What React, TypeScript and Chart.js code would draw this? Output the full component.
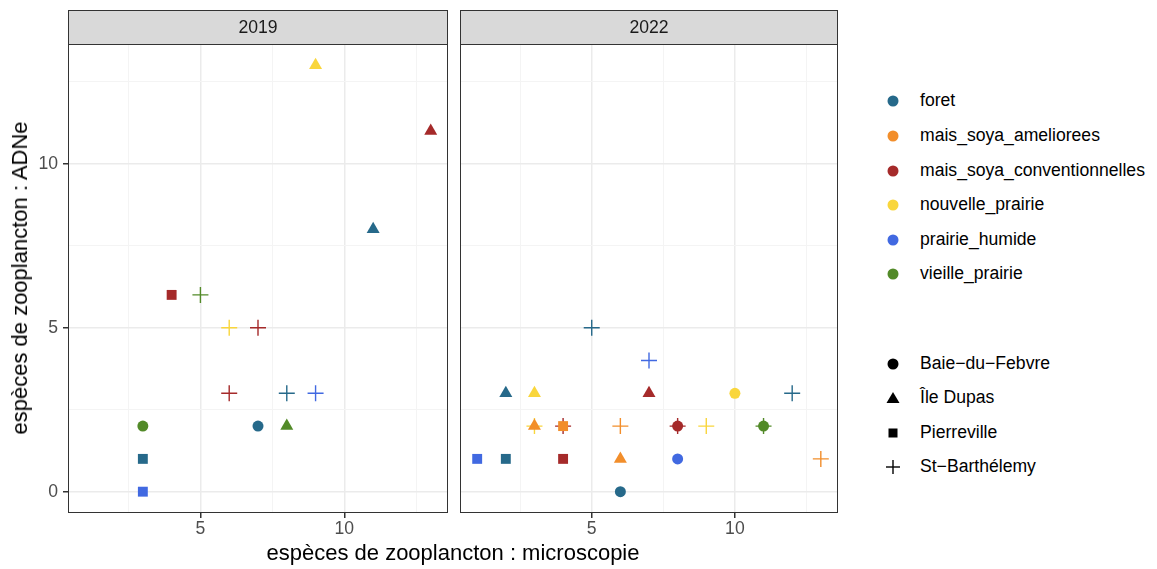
import React, { useEffect, useRef } from 'react';
import { Chart, registerables } from 'chart.js';

Chart.register(...registerables);

const FONT = '"Liberation Sans", Arial, Helvetica, sans-serif';

const habitats = ['foret', 'mais_soya_ameliorees', 'mais_soya_conventionnelles', 'nouvelle_prairie', 'prairie_humide', 'vieille_prairie'];
const habitatColors = ['#26698A', '#F28E2B', '#A52A2A', '#F9D63C', '#4169E1', '#528A28'];
const sites = ['Baie\u2212du\u2212Febvre', '\u00CEle Dupas', 'Pierreville', 'St\u2212Barth\u00E9lemy'];
const siteShapes = ['circle', 'triangle', 'rect', 'cross'];
const siteRadius = [5.5, 7.5, 7, 8];

const years = ['2019', '2022'];

const x2019 = [9, 13, 11, 4, 5, 6, 7, 6, 8, 9, 3, 7, 8, 3, 3];
const y2019 = [13, 11, 8, 6, 6, 5, 5, 3, 3, 3, 2, 2, 2, 1, 0];
const hab2019 = [3, 2, 0, 2, 5, 3, 2, 2, 0, 4, 5, 0, 5, 0, 4];
const site2019 = [1, 1, 1, 2, 3, 3, 3, 3, 3, 3, 0, 0, 1, 2, 2];

const x2022 = [5, 7, 2, 3, 7, 10, 12, 3, 3, 4, 4, 6, 8, 8, 9, 11, 11, 1, 2, 4, 6, 8, 13, 6];
const y2022 = [5, 4, 3, 3, 3, 3, 3, 2, 2, 2, 2, 2, 2, 2, 2, 2, 2, 1, 1, 1, 1, 1, 1, 0];
const hab2022 = [0, 4, 0, 3, 2, 3, 0, 3, 1, 2, 1, 1, 2, 2, 3, 5, 5, 4, 0, 2, 1, 4, 1, 0];
const site2022 = [3, 3, 1, 1, 1, 0, 3, 3, 1, 3, 2, 3, 3, 0, 3, 3, 0, 2, 2, 2, 1, 0, 3, 0];

const xTitle = 'esp\u00E8ces de zooplancton : microscopie';
const yTitle = 'esp\u00E8ces de zooplancton : ADNe';

const X_MIN = 0.4, X_MAX = 13.6, Y_MIN = -0.65, Y_MAX = 13.65;

const panelData = [
  { xs: x2019, ys: y2019, hab: hab2019, site: site2019 },
  { xs: x2022, ys: y2022, hab: hab2022, site: site2022 },
];

const isMajor = (v: number) => Math.abs(v % 5) < 1e-9;

const framePlugin = {
  id: 'frame',
  beforeDraw(chart: any, _a: any, opts: any) {
    const { ctx, chartArea: a } = chart;
    ctx.save();
    ctx.fillStyle = '#D9D9D9';
    ctx.fillRect(a.left, 10, a.right - a.left, a.top - 10);
    ctx.strokeStyle = '#333333';
    ctx.lineWidth = 1;
    ctx.strokeRect(a.left + 0.5, 10.5, a.right - a.left - 1, a.top - 10);
    ctx.fillStyle = '#1A1A1A';
    ctx.font = `17.6px ${FONT}`;
    ctx.textAlign = 'center';
    ctx.textBaseline = 'middle';
    ctx.fillText(opts.label, (a.left + a.right) / 2, (10 + a.top) / 2 + 1);
    ctx.restore();
  },
  afterDatasetsDraw(chart: any) {
    const { ctx, chartArea: a } = chart;
    ctx.save();
    ctx.strokeStyle = '#333333';
    ctx.lineWidth = 1;
    ctx.strokeRect(a.left + 0.5, a.top + 0.5, a.right - a.left - 1, a.bottom - a.top - 1);
    ctx.restore();
  },
};

function Panel({ idx, left, width, padLeft, padRight, showY }: any) {
  const ref = useRef<HTMLCanvasElement>(null);
  useEffect(() => {
    const d = panelData[idx];
    const pts = d.xs.map((x, i) => ({ x, y: d.ys[i] }));
    const colors = d.hab.map((h) => habitatColors[h]);
    const styles = d.site.map((s) => siteShapes[s]);
    const radii = d.site.map((s) => siteRadius[s]);
    const bws = d.site.map((s) => (s === 3 ? 1.4 : 0));
    const chart = new Chart(ref.current as HTMLCanvasElement, {
      type: 'scatter',
      data: {
        datasets: [
          {
            data: pts,
            backgroundColor: colors,
            borderColor: colors,
            borderWidth: bws,
            pointStyle: styles as any,
            pointRadius: radii,
            pointHoverRadius: radii,
          } as any,
        ],
      },
      options: {
        animation: false,
        responsive: false,
        events: [],
        layout: { autoPadding: false, padding: { top: 44, left: padLeft, right: padRight, bottom: 0 } },
        plugins: { legend: { display: false }, tooltip: { enabled: false }, frame: { label: years[idx] } } as any,
        scales: {
          x: {
            type: 'linear',
            min: X_MIN,
            max: X_MAX,
            afterFit: (s: any) => { s.height = 56; s.paddingLeft = 0; s.paddingRight = 0; },
            border: { display: false },
            grid: {
              color: (c: any) => (isMajor(c.tick.value) ? '#EBEBEB' : '#F4F4F4'),
              lineWidth: (c: any) => (isMajor(c.tick.value) ? 1.5 : 1),
              tickColor: (c: any) => (isMajor(c.tick.value) ? '#333333' : 'rgba(0,0,0,0)'),
              tickLength: 5,
              drawTicks: true,
            },
            ticks: {
              stepSize: 2.5,
              includeBounds: false,
              autoSkip: false,
              maxRotation: 0,
              padding: 1,
              color: '#4D4D4D',
              font: { family: FONT, size: 17.6 },
              callback: (v: any) => (isMajor(Number(v)) ? String(v) : ''),
            },
          },
          y: {
            type: 'linear',
            min: Y_MIN,
            max: Y_MAX,
            afterFit: (s: any) => { s.width = showY ? 68 : 0; s.paddingTop = 0; s.paddingBottom = 0; },
            border: { display: false },
            grid: {
              color: (c: any) => (isMajor(c.tick.value) ? '#EBEBEB' : '#F4F4F4'),
              lineWidth: (c: any) => (isMajor(c.tick.value) ? 1.5 : 1),
              tickColor: (c: any) => (isMajor(c.tick.value) && showY ? '#333333' : 'rgba(0,0,0,0)'),
              tickLength: showY ? 5 : 0,
              drawTicks: showY,
            },
            ticks: {
              display: showY,
              stepSize: 2.5,
              includeBounds: false,
              autoSkip: false,
              padding: 5,
              color: '#4D4D4D',
              font: { family: FONT, size: 17.6 },
              callback: (v: any) => (isMajor(Number(v)) ? String(v) : ''),
            },
          },
        },
      } as any,
      plugins: [framePlugin],
    });
    return () => chart.destroy();
  }, []);
  return (
    <canvas
      ref={ref}
      width={width}
      height={569}
      style={{ position: 'absolute', left, top: 0, width, height: 569 }}
    />
  );
}

function Marker({ shape, color }: { shape: string; color: string }) {
  const s = 14;
  let el: any = null;
  if (shape === 'circle') el = <circle cx={7} cy={7} r={5.5} fill={color} />;
  else if (shape === 'triangle') el = <polygon points="7,1 13.5,12 0.5,12" fill={color} />;
  else if (shape === 'rect') el = <rect x={2.5} y={2.5} width={9} height={9} fill={color} />;
  else el = (
    <g stroke={color} strokeWidth={1.4}>
      <line x1={0} y1={7} x2={14} y2={7} />
      <line x1={7} y1={0} x2={7} y2={14} />
    </g>
  );
  return (
    <svg width={s} height={s} style={{ position: 'absolute', left: -7, top: -7 }}>
      {el}
    </svg>
  );
}

export default function App() {
  const habY = [101, 136, 171, 205, 240, 274];
  const siteY = [364, 398, 433, 467];
  return (
    <div style={{ position: 'fixed', left: 0, top: 0, width: 1157, height: 569, background: '#fff', overflow: 'hidden', fontFamily: FONT }}>
      <Panel idx={0} left={0} width={455} padLeft={0} padRight={7} showY={true} />
      <Panel idx={1} left={455} width={390} padLeft={5} padRight={7} showY={false} />
      <div
        style={{
          position: 'absolute', left: 20, top: 278, transform: 'translate(-50%, -50%) rotate(-90deg)',
          whiteSpace: 'nowrap', fontSize: 22, color: '#000', lineHeight: 1,
        }}
      >
        {yTitle}
      </div>
      <div
        style={{
          position: 'absolute', left: 453, top: 553, transform: 'translate(-50%, -50%)',
          whiteSpace: 'nowrap', fontSize: 22, color: '#000', lineHeight: 1,
        }}
      >
        {xTitle}
      </div>
      {habitats.map((h, i) => (
        <div key={h} style={{ position: 'absolute', left: 893, top: habY[i] }}>
          <Marker shape="circle" color={habitatColors[i]} />
          <div style={{ position: 'absolute', left: 27, top: 0, transform: 'translateY(-50%)', fontSize: 17.6, whiteSpace: 'nowrap', color: '#000', lineHeight: 1 }}>{h}</div>
        </div>
      ))}
      {sites.map((s, i) => (
        <div key={s} style={{ position: 'absolute', left: 893, top: siteY[i] }}>
          <Marker shape={siteShapes[i]} color="#000" />
          <div style={{ position: 'absolute', left: 27, top: 0, transform: 'translateY(-50%)', fontSize: 17.6, whiteSpace: 'nowrap', color: '#000', lineHeight: 1 }}>{s}</div>
        </div>
      ))}
    </div>
  );
}
